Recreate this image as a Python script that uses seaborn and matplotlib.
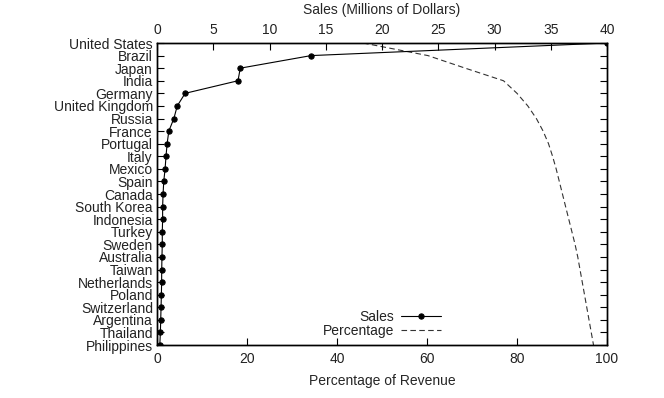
"""Pareto chart of sales by country: sales (top axis) and cumulative revenue share (bottom axis)."""

import matplotlib.pyplot as plt
import numpy as np
import pandas as pd
import seaborn as sns

countries = [
    "United States", "Brazil", "Japan", "India", "Germany", "United Kingdom",
    "Russia", "France", "Portugal", "Italy", "Mexico", "Spain", "Canada",
    "South Korea", "Indonesia", "Turkey", "Sweden", "Australia", "Taiwan",
    "Netherlands", "Poland", "Switzerland", "Argentina", "Thailand", "Philippines",
]
sales_musd = [
    40.0, 13.7, 7.4, 7.2, 2.5, 1.8, 1.5, 1.05, 0.9, 0.8, 0.72, 0.6, 0.54,
    0.5, 0.5, 0.47, 0.47, 0.44, 0.42, 0.41, 0.39, 0.36, 0.33, 0.3, 0.25,
]
cumulative_pct = [
    45.8, 60.2, 68.5, 77.0, 80.0, 82.4, 84.3, 85.8, 87.0, 87.9, 88.7, 89.4,
    90.1, 90.8, 91.5, 92.2, 92.9, 93.5, 94.0, 94.5, 95.0, 95.5, 96.0, 96.5, 97.0,
]

df = pd.DataFrame({
    "country": countries,
    "rank": np.arange(len(countries)),
    "sales": sales_musd,
    "pct": cumulative_pct,
})

sns.set_theme(style="ticks")
plt.rcParams.update({
    "font.family": ["Liberation Sans", "DejaVu Sans"],
    "font.size": 10,
    "axes.edgecolor": "black",
    "axes.linewidth": 1.0,
    "text.color": "#222222",
    "xtick.color": "black",
    "ytick.color": "black",
    "xtick.labelcolor": "#222222",
    "ytick.labelcolor": "#222222",
})

fig = plt.figure(figsize=(6.64, 3.98), dpi=100)
ax = fig.add_axes([157 / 664, 1 - 345 / 398, 450 / 664, 302 / 398])
ax2 = ax.twiny()

# cumulative percentage on the bottom axis
sns.lineplot(data=df, x="pct", y="rank", ax=ax, sort=False, estimator=None,
             color="#333333", linewidth=0.8, linestyle=(0, (5, 3)), label="Percentage",
             legend=False)
# sales on the top axis
sns.lineplot(data=df, x="sales", y="rank", ax=ax2, sort=False, estimator=None,
             color="black", linewidth=0.8, marker="o", markersize=3.8,
             markeredgecolor="black", markerfacecolor="black", label="Sales",
             legend=False)

ax.set_xlim(0, 100)
ax2.set_xlim(0, 40)
ax.set_ylim(len(countries) - 1, 0)
ax2.set_ylim(len(countries) - 1, 0)

ax.set_xticks([0, 20, 40, 60, 80, 100])
ax2.set_xticks(np.arange(0, 41, 5))
ax.set_yticks(df["rank"])
ax.set_yticklabels(countries)
ax.set_xlabel("Percentage of Revenue", fontsize=10, labelpad=6)
ax2.set_xlabel("Sales (Millions of Dollars)", fontsize=10, labelpad=7)
ax.set_ylabel("")
ax2.set_ylabel("")

ax.tick_params(axis="x", direction="in", length=5, width=0.8, pad=5, labelsize=10)
ax.tick_params(axis="y", direction="in", length=5, width=0.8, pad=3, labelsize=10,
               right=True)
ax2.tick_params(axis="x", direction="in", length=5, width=0.8, pad=4, labelsize=10)
ax2.tick_params(axis="y", left=False, right=False, labelleft=False, labelright=False)

for a in (ax, ax2):
    for s in a.spines.values():
        s.set_visible(True)
        s.set_linewidth(1.0)

h1, l1 = ax2.get_legend_handles_labels()
h2, l2 = ax.get_legend_handles_labels()
fig.legend(h1 + h2, l1 + l2, loc="lower right", bbox_to_anchor=(441 / 664, 1 - 338 / 398),
           frameon=False, markerfirst=False, handlelength=2.9, handletextpad=0.45,
           labelspacing=0.0, borderpad=0, borderaxespad=0, fontsize=10)

fig.savefig("out.png", dpi=100, facecolor="white")
